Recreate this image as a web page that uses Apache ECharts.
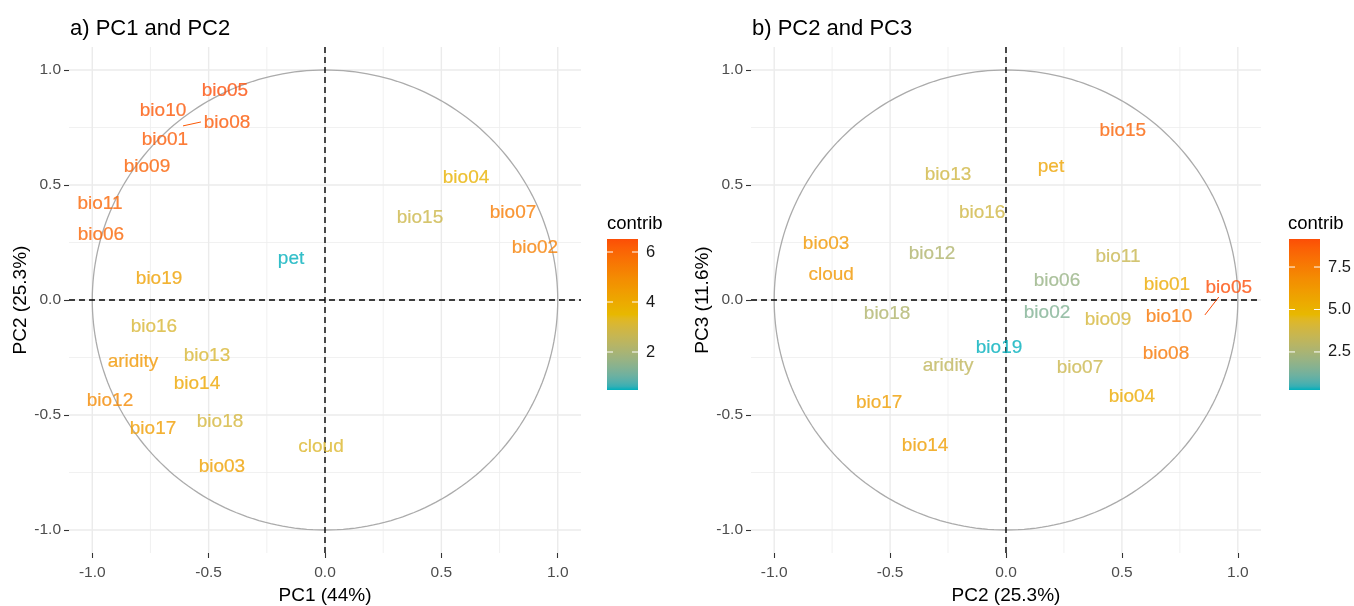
<!DOCTYPE html>
<html>
<head>
<meta charset="utf-8">
<script src="https://cdn.jsdelivr.net/npm/echarts@6/dist/echarts.min.js"></script>
<style>html,body{margin:0;padding:0;background:#fff;}#c{width:1354px;height:606px;}</style>
</head>
<body>
<div id="c"></div>
<script>
// ---------- data ----------
const namesA = ['bio05','bio10','bio08','bio01','bio09','bio11','bio06','bio19','pet','bio04','bio15','bio07','bio02','bio16','aridity','bio13','bio14','bio12','bio17','bio18','bio03','cloud'];
const xA = [-0.43,-0.696,-0.421,-0.688,-0.765,-0.967,-0.963,-0.713,-0.146,0.606,0.408,0.808,0.902,-0.735,-0.825,-0.507,-0.55,-0.924,-0.739,-0.451,-0.443,-0.017];
const yA = [0.913,0.826,0.774,0.70,0.583,0.422,0.287,0.096,0.183,0.535,0.361,0.383,0.230,-0.113,-0.265,-0.239,-0.361,-0.435,-0.557,-0.526,-0.722,-0.635];
const contribA = [6.52,6.35,6.3,6.25,6.1,6.0,6.0,4.3,0.48,3.7,2.8,5.4,5.3,3.1,4.6,3.1,4.1,5.0,4.4,3.0,4.3,3.2];

const namesB = ['bio15','pet','bio13','bio16','bio03','bio12','bio11','cloud','bio06','bio01','bio05','bio18','bio02','bio09','bio10','bio19','aridity','bio07','bio08','bio04','bio17','bio14'];
const xB = [0.504,0.194,-0.25,-0.103,-0.776,-0.319,0.483,-0.754,0.22,0.694,0.961,-0.513,0.177,0.44,0.703,-0.03,-0.25,0.319,0.69,0.543,-0.547,-0.349];
const yB = [0.739,0.583,0.548,0.383,0.248,0.204,0.191,0.113,0.087,0.07,0.057,-0.057,-0.052,-0.083,-0.07,-0.204,-0.283,-0.291,-0.23,-0.417,-0.443,-0.63];
const contribB = [8.5,5.7,3.8,3.8,6.3,2.7,3.5,6.3,2.0,5.4,9.15,2.7,1.5,4.0,7.8,0.26,3.2,3.6,7.7,5.4,6.0,6.0];

// repel segments: [name, pointX, pointY, labelX, labelY]
const segA = [['bio08',-0.610,0.757,-0.533,0.774]];
const segB = [['bio05',0.858,-0.065,0.918,0.013]];

const axisTicks = [-1,-0.5,0,0.5,1];
const minorGrid = [-0.75,-0.25,0.25,0.75];
const legendTicksA = [2,4,6];
const legendTicksB = [2.5,5.0,7.5];
const gradientCols = ['#00AFBB','#E7B800','#FC4E07'];

// ---------- colour helpers (Lab interpolation like ggplot) ----------
function hex2rgb(h){h=h.replace('#','');return [0,2,4].map(i=>parseInt(h.substr(i,2),16));}
function rgb2lab(c){
  const l=c.map(v=>{v/=255;return v<=0.04045?v/12.92:Math.pow((v+0.055)/1.055,2.4);});
  const X=(0.4124564*l[0]+0.3575761*l[1]+0.1804375*l[2])/0.95047;
  const Y=(0.2126729*l[0]+0.7151522*l[1]+0.0721750*l[2]);
  const Z=(0.0193339*l[0]+0.1191920*l[1]+0.9503041*l[2])/1.08883;
  const f=t=>t>0.008856?Math.cbrt(t):7.787*t+16/116;
  const fx=f(X),fy=f(Y),fz=f(Z);
  return [116*fy-16,500*(fx-fy),200*(fy-fz)];
}
function lab2hex(L){
  const fy=(L[0]+16)/116,fx=fy+L[1]/500,fz=fy-L[2]/200;
  const fi=t=>{const t3=t*t*t;return t3>0.008856?t3:(t-16/116)/7.787;};
  const X=fi(fx)*0.95047,Y=fi(fy),Z=fi(fz)*1.08883;
  let r=3.2404542*X-1.5371385*Y-0.4985314*Z;
  let g=-0.9692660*X+1.8760108*Y+0.0415560*Z;
  let b=0.0556434*X-0.2040259*Y+1.0572252*Z;
  const gam=v=>{v=v<=0.0031308?12.92*v:1.055*Math.pow(v,1/2.4)-0.055;return Math.max(0,Math.min(255,Math.round(v*255)));};
  return '#'+[gam(r),gam(g),gam(b)].map(v=>v.toString(16).padStart(2,'0')).join('');
}
const labStops = gradientCols.map(h=>rgb2lab(hex2rgb(h)));
function colorT(t){
  t=Math.max(0,Math.min(1,t));
  const n=labStops.length-1;
  let i=Math.min(n-1,Math.floor(t*n));
  const u=t*n-i;
  const a=labStops[i],b=labStops[i+1];
  return lab2hex([a[0]+(b[0]-a[0])*u,a[1]+(b[1]-a[1])*u,a[2]+(b[2]-a[2])*u]);
}
function colorFor(v,mn,mx){return colorT((v-mn)/(mx-mn));}

const FONT = '"Liberation Sans", Arial, sans-serif';
const rangeA = [Math.min(...contribA),Math.max(...contribA)];
const rangeB = [Math.min(...contribB),Math.max(...contribB)];

// ---------- layout ----------
const panels = [
  {left:69, width:512, xname:'PC1 (44%)', yname:'PC2 (25.3%)'},
  {left:751, width:510, xname:'PC2 (25.3%)', yname:'PC3 (11.6%)'}
];
const legends = [{left:607},{left:1289}];
const grids = [], xAxes = [], yAxes = [], series = [];

panels.forEach((p,i)=>{
  grids.push({left:p.left, top:47, width:p.width, height:506, containLabel:false, outerBoundsMode:'none'});
  const common = {
    type:'value', min:-1.1, max:1.1, gridIndex:i,
    axisLine:{show:false, onZero:false}, splitLine:{show:false},
    axisTick:{show:true, length:5, lineStyle:{color:'#333', width:1.1}, customValues:axisTicks},
    axisLabel:{customValues:axisTicks, formatter:v=>v.toFixed(1), color:'#4D4D4D', fontSize:15.5, fontFamily:FONT},
    nameLocation:'middle', nameTextStyle:{color:'#000', fontSize:19, fontFamily:FONT}
  };
  xAxes.push(Object.assign({}, common, {position:'bottom', name:p.xname, nameGap:29, axisLabel:Object.assign({}, common.axisLabel, {margin:12})}));
  yAxes.push(Object.assign({}, common, {position:'left', name:p.yname, nameGap:36, axisLabel:Object.assign({}, common.axisLabel, {margin:8})}));
});
legends.forEach((l,i)=>{
  const rg = i===0?rangeA:rangeB, tk = i===0?legendTicksA:legendTicksB;
  grids.push({left:l.left, top:239, width:31, height:151, containLabel:false, outerBoundsMode:'none'});
  xAxes.push({type:'value', gridIndex:2+i, min:0, max:1, show:false});
  yAxes.push({type:'value', gridIndex:2+i, min:rg[0], max:rg[1], position:'right',
    axisLine:{show:false, onZero:false}, axisTick:{show:false}, splitLine:{show:false},
    axisLabel:{customValues:tk, formatter:v=> i===0? String(v) : v.toFixed(1), color:'#1a1a1a', fontSize:16.5, fontFamily:FONT, margin:8}});
});

// background grid, circle, dashed zero lines
[0,1].forEach(i=>{
  series.push({
    type:'custom', xAxisIndex:i, yAxisIndex:i, silent:true, z:1, data:[[0,0]],
    renderItem:(params, api)=>{
      const ch=[];
      const lo=-1.1, hi=1.1;
      minorGrid.forEach(v=>{
        const a=api.coord([v,lo]), b=api.coord([v,hi]);
        ch.push({type:'line', shape:{x1:a[0],y1:a[1],x2:b[0],y2:b[1]}, style:{stroke:'#EEEEEE', lineWidth:0.8}});
        const c=api.coord([lo,v]), d=api.coord([hi,v]);
        ch.push({type:'line', shape:{x1:c[0],y1:c[1],x2:d[0],y2:d[1]}, style:{stroke:'#EEEEEE', lineWidth:0.8}});
      });
      axisTicks.forEach(v=>{
        const a=api.coord([v,lo]), b=api.coord([v,hi]);
        ch.push({type:'line', shape:{x1:a[0],y1:a[1],x2:b[0],y2:b[1]}, style:{stroke:'#EBEBEB', lineWidth:1.4}});
        const c=api.coord([lo,v]), d=api.coord([hi,v]);
        ch.push({type:'line', shape:{x1:c[0],y1:c[1],x2:d[0],y2:d[1]}, style:{stroke:'#EBEBEB', lineWidth:1.4}});
      });
      // unit circle
      const pts=[];
      for(let k=0;k<=240;k++){const t=k/240*2*Math.PI;pts.push(api.coord([Math.cos(t),Math.sin(t)]));}
      ch.push({type:'polyline', shape:{points:pts}, style:{stroke:'#ABABAB', lineWidth:1.3, fill:null}});
      // dashed zero lines
      const a=api.coord([0,lo]), b=api.coord([0,hi]), c=api.coord([lo,0]), d=api.coord([hi,0]);
      ch.push({type:'line', shape:{x1:a[0],y1:a[1],x2:b[0],y2:b[1]}, style:{stroke:'#000', lineWidth:1.4, lineDash:[6,4]}});
      ch.push({type:'line', shape:{x1:c[0],y1:c[1],x2:d[0],y2:d[1]}, style:{stroke:'#000', lineWidth:1.4, lineDash:[6,4]}});
      return {type:'group', children:ch};
    }
  });
});

// labels
function labelSeries(idx, names, xs, ys, cs, rg){
  return {
    type:'scatter', xAxisIndex:idx, yAxisIndex:idx, z:5, symbolSize:1, itemStyle:{color:'rgba(0,0,0,0)'}, silent:true,
    data: names.map((n,k)=>{
      const col = colorFor(cs[k],rg[0],rg[1]);
      return {name:n, value:[xs[k],ys[k],cs[k]],
        label:{show:true, position:'inside', offset:[0,1], formatter:n, color:col, textBorderColor:col, textBorderWidth:0.2, fontSize:19, fontFamily:FONT}};
    })
  };
}
series.push(labelSeries(0, namesA, xA, yA, contribA, rangeA));
series.push(labelSeries(1, namesB, xB, yB, contribB, rangeB));

// repel segments
function segSeries(idx, segs, names, cs, rg){
  return {
    type:'custom', xAxisIndex:idx, yAxisIndex:idx, silent:true, z:4,
    data: segs.map(s=>[s[1],s[2],s[3],s[4]]),
    renderItem:(params, api)=>{
      const s=segs[params.dataIndex];
      const a=api.coord([api.value(0),api.value(1)]), b=api.coord([api.value(2),api.value(3)]);
      const c=cs[names.indexOf(s[0])];
      return {type:'line', shape:{x1:a[0],y1:a[1],x2:b[0],y2:b[1]}, style:{stroke:colorFor(c,rg[0],rg[1]), lineWidth:1}};
    }
  };
}
series.push(segSeries(0, segA, namesA, contribA, rangeA));
series.push(segSeries(1, segB, namesB, contribB, rangeB));

// colour bars
[0,1].forEach(i=>{
  const rg = i===0?rangeA:rangeB, tk = i===0?legendTicksA:legendTicksB;
  series.push({
    type:'custom', xAxisIndex:2+i, yAxisIndex:2+i, silent:true, data:[[0.5, rg[0]]],
    renderItem:(params, api)=>{
      const p0=api.coord([0,rg[1]]), p1=api.coord([1,rg[0]]);
      const stops=[];
      for(let k=0;k<=40;k++){stops.push({offset:k/40, color:colorT(k/40)});}
      const ch=[{type:'rect', shape:{x:p0[0],y:p0[1],width:p1[0]-p0[0],height:p1[1]-p0[1]},
        style:{fill:new echarts.graphic.LinearGradient(0,1,0,0,stops)}}];
      tk.forEach(v=>{
        const y=api.coord([0,v])[1];
        ch.push({type:'line', shape:{x1:p0[0],y1:y,x2:p0[0]+6,y2:y}, style:{stroke:'#fff', lineWidth:1}});
        ch.push({type:'line', shape:{x1:p1[0]-6,y1:y,x2:p1[0],y2:y}, style:{stroke:'#fff', lineWidth:1}});
      });
      return {type:'group', children:ch};
    }
  });
});

const chart = echarts.init(document.getElementById('c'), null, {renderer:'canvas'});
chart.setOption({
  animation:false,
  backgroundColor:'#fff',
  title:[
    {text:'a) PC1 and PC2', left:70, top:18, padding:0, textStyle:{fontSize:22, fontWeight:'normal', color:'#000', fontFamily:FONT}},
    {text:'b) PC2 and PC3', left:752, top:18, padding:0, textStyle:{fontSize:22, fontWeight:'normal', color:'#000', fontFamily:FONT}},
    {text:'contrib', left:607, top:214, padding:0, textStyle:{fontSize:18.5, fontWeight:'normal', color:'#000', fontFamily:FONT}},
    {text:'contrib', left:1288, top:214, padding:0, textStyle:{fontSize:18.5, fontWeight:'normal', color:'#000', fontFamily:FONT}}
  ],
  grid:grids, xAxis:xAxes, yAxis:yAxes, series:series
});
</script>
</body>
</html>
